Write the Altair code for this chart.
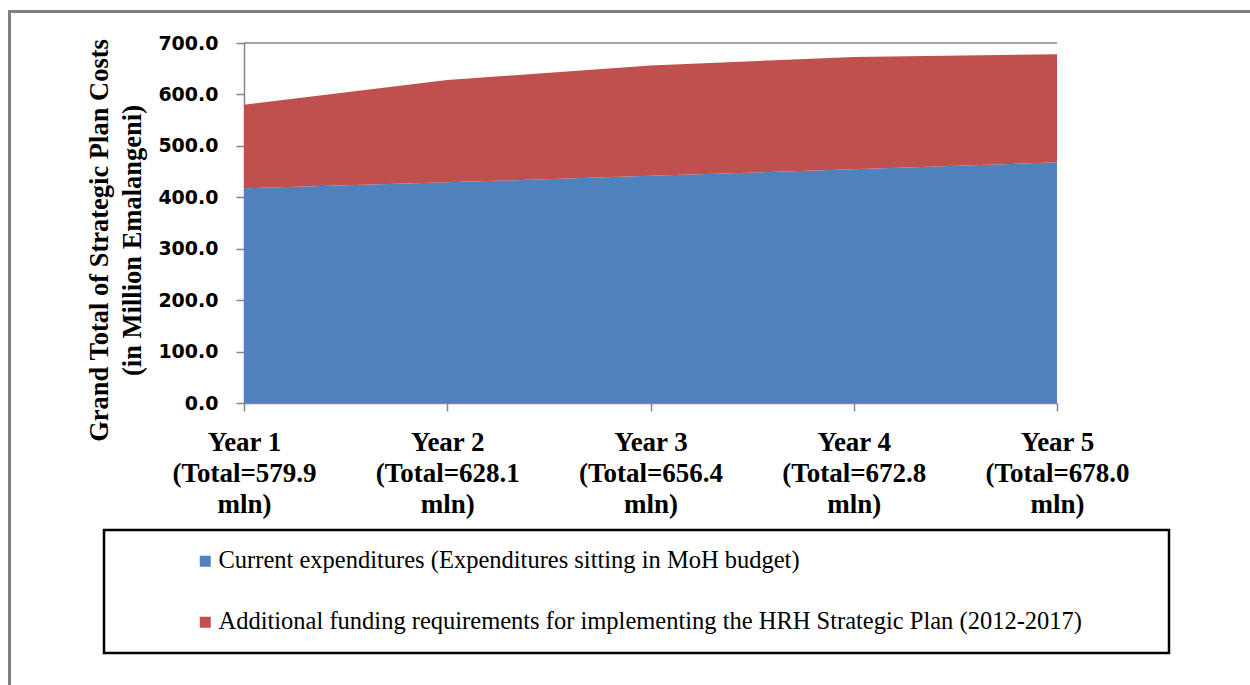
import altair as alt
import pandas as pd

# Five plan years, the stated grand totals and the MoH-budget share of each
years = ["Year 1", "Year 2", "Year 3", "Year 4", "Year 5"]
totals = [579.9, 628.1, 656.4, 672.8, 678.0]
current = [417.5, 429.0, 441.8, 454.3, 467.9]

series = [
    "Current expenditures (Expenditures sitting in MoH budget)",
    "Additional funding requirements for implementing the HRH Strategic Plan (2012-2017)",
]
colors = ["#4F81BD", "#C0504D"]
y_ticks = [0, 100, 200, 300, 400, 500, 600, 700]

labels = [f"{y}|(Total={t:.1f}|mln)" for y, t in zip(years, totals)]

rows = []
for lab, cur, tot in zip(labels, current, totals):
    rows.append({"label": lab, "series": series[0], "low": 0.0, "high": cur})
    rows.append({"label": lab, "series": series[1], "low": cur, "high": tot})
df = pd.DataFrame(rows)

GRAY = "#868686"

areas = alt.Chart(df).mark_area(opacity=1, line=False).encode(
    x=alt.X(
        "label:N",
        sort=labels,
        scale=alt.Scale(type="point", padding=0),
        axis=alt.Axis(
            title=None,
            labelExpr="split(datum.label, '|')",
            labelFont="Liberation Serif",
            labelFontWeight="bold",
            labelFontSize=27,
            labelLineHeight=31,
            labelColor="black",
            labelAngle=0,
            labelBaseline="top",
            labelPadding=18,
            labelFlush=False,
            labelOverlap=False,
            tickSize=8,
            tickColor=GRAY,
            tickWidth=1.5,
            domainColor=GRAY,
            domainWidth=1.5,
            grid=False,
        ),
    ),
    y=alt.Y(
        "high:Q",
        scale=alt.Scale(domain=[0, 700], nice=False),
        axis=alt.Axis(
            values=y_ticks,
            format=".1f",
            labelFont="DejaVu Sans",
            labelFontWeight="bold",
            labelFontSize=19,
            labelColor="black",
            labelPadding=18,
            tickSize=8,
            tickColor=GRAY,
            tickWidth=1.5,
            domainColor=GRAY,
            domainWidth=1.5,
            grid=False,
            title=["Grand Total of Strategic Plan Costs", "(in Million Emalangeni)"],
            titleFont="Liberation Serif",
            titleFontWeight="bold",
            titleFontSize=26.5,
            titleColor="black",
            titleAngle=270,
            titleAlign="center",
            titleBaseline="middle",
            titleLineHeight=33,
            titleX=-145,
            titleY=197,
        ),
    ),
    y2="low:Q",
    color=alt.Color(
        "series:N",
        scale=alt.Scale(domain=series, range=colors),
        legend=alt.Legend(
            title=None,
            orient="none",
            legendX=-51,
            legendY=506,
            direction="vertical",
            symbolType="square",
            symbolSize=121,
            symbolStrokeWidth=0,
            symbolOpacity=1,
            labelFont="Liberation Serif",
            labelFontSize=24.5,
            labelColor="black",
            labelOffset=1,
            labelLimit=1000,
            rowPadding=36,
            padding=0,
        ),
    ),
)

# Top gridline at the axis maximum
top_line = alt.Chart(pd.DataFrame({"v": [700]})).mark_rule(
    color=GRAY, strokeWidth=1.5
).encode(y=alt.Y("v:Q"))

# Box around the legend
legend_box = alt.Chart(pd.DataFrame({"a": [0]})).mark_rect(
    fillOpacity=0, stroke="black", strokeWidth=2.5
).encode(
    x=alt.value(-140), x2=alt.value(925), y=alt.value(487), y2=alt.value(610)
)

# Outer frame of the figure
frame = alt.Chart(pd.DataFrame({"a": [0]})).mark_rect(
    fillOpacity=0, stroke="#808080", strokeWidth=3
).encode(
    x=alt.value(-234.5), x2=alt.value(1400), y=alt.value(-31.5), y2=alt.value(900)
)

chart = alt.layer(frame, areas, top_line, legend_box).properties(
    width=813,
    height=360,
    autosize=alt.AutoSizeParams(type="none"),
    padding={"left": 244, "top": 43, "right": 193, "bottom": 282},
    background="white",
).configure_view(stroke=None)

chart.save("out.html", embed_options={"renderer": "svg", "actions": False})
